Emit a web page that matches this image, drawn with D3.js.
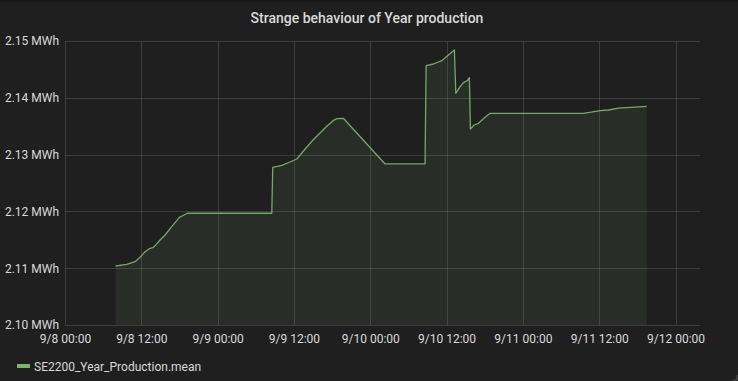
<!DOCTYPE html>
<html>
<head>
<meta charset="utf-8">
<script src="https://cdn.jsdelivr.net/npm/d3@7"></script>
<style>
  html, body { margin: 0; padding: 0; background: #161719; }
  svg { display: block; }
  text { font-family: Roboto, "Open Sans", sans-serif; }
</style>
</head>
<body>
<svg id="chart" width="738" height="381"></svg>
<script>
// ---- data ----
const title = "Strange behaviour of Year production";
const seriesName = "SE2200_Year_Production.mean";
const times = [
  "2018-09-08T07:58", "2018-09-08T09:42", "2018-09-08T11:01", "2018-09-08T11:48",
  "2018-09-08T12:35", "2018-09-08T13:16", "2018-09-08T13:53", "2018-09-08T14:19",
  "2018-09-08T14:57", "2018-09-08T15:44", "2018-09-08T16:47", "2018-09-08T17:59",
  "2018-09-08T19:14", "2018-09-09T08:31", "2018-09-09T08:40", "2018-09-09T10:05",
  "2018-09-09T11:23", "2018-09-09T12:27", "2018-09-09T13:45", "2018-09-09T15:00",
  "2018-09-09T16:06", "2018-09-09T17:12", "2018-09-09T18:09", "2018-09-09T18:44",
  "2018-09-09T19:46", "2018-09-10T02:20", "2018-09-10T08:37", "2018-09-10T08:47",
  "2018-09-10T09:56", "2018-09-10T11:15", "2018-09-10T12:17", "2018-09-10T13:14",
  "2018-09-10T13:27", "2018-09-10T14:08", "2018-09-10T14:39", "2018-09-10T15:16",
  "2018-09-10T15:35", "2018-09-10T15:45", "2018-09-10T16:20", "2018-09-10T17:00",
  "2018-09-10T18:03", "2018-09-10T18:51", "2018-09-11T09:31", "2018-09-11T12:09",
  "2018-09-11T13:27", "2018-09-11T15:01", "2018-09-11T19:29"
];
const values = [
  2.11039, 2.11069, 2.11114, 2.11192,
  2.11290, 2.11343, 2.11368, 2.11414,
  2.11496, 2.11585, 2.11731, 2.11896,
  2.11967, 2.11967, 2.12776, 2.12812,
  2.12870, 2.12923, 2.13099, 2.13257,
  2.13380, 2.13504, 2.13597, 2.13632,
  2.13639, 2.12835, 2.12835, 2.14565,
  2.14595, 2.14653, 2.14754, 2.14842,
  2.14079, 2.14195, 2.14266, 2.14301,
  2.14354, 2.13451, 2.13521, 2.13551,
  2.13657, 2.13727, 2.13727, 2.13773,
  2.13785, 2.13820, 2.13850
];
const yTicks = [2.10, 2.11, 2.12, 2.13, 2.14, 2.15];
const xTickTimes = [
  "2018-09-08T00:00", "2018-09-08T12:00", "2018-09-09T00:00", "2018-09-09T12:00",
  "2018-09-10T00:00", "2018-09-10T12:00", "2018-09-11T00:00", "2018-09-11T12:00",
  "2018-09-12T00:00"
];
const xDomain = ["2018-09-08T00:00", "2018-09-12T03:51"];
const yDomain = [2.10, 2.15];

// ---- drawing ----
const parse = d3.timeParse("%Y-%m-%dT%H:%M");
const data = times.map((t, i) => ({ t: parse(t), v: values[i] }));

const svg = d3.select("#chart");
const W = 738, H = 381;
const m = { left: 65, right: 38, top: 41, bottom: 56 };

svg.append("rect").attr("x", 0).attr("y", 2).attr("width", W).attr("height", H - 2)
  .attr("fill", "#1f1f20");

const x = d3.scaleTime().domain(xDomain.map(parse)).range([m.left, W - m.right]);
const y = d3.scaleLinear().domain(yDomain).range([H - m.bottom, m.top]);

svg.append("text").attr("x", 367).attr("y", 22.5).attr("text-anchor", "middle")
  .attr("fill", "#d8d9da").attr("font-size", 14).attr("font-weight", 500)
  .text(title);

// grid
const grid = svg.append("g");
grid.selectAll("line.h").data(yTicks).enter().append("line")
  .attr("x1", m.left).attr("x2", W - m.right)
  .attr("y1", d => Math.round(y(d)) + 0.5).attr("y2", d => Math.round(y(d)) + 0.5)
  .attr("stroke", "#ffffff").attr("stroke-opacity", 0.13).attr("stroke-width", 1);
grid.selectAll("line.v").data(xTickTimes.map(parse)).enter().append("line")
  .attr("y1", m.top).attr("y2", H - m.bottom)
  .attr("x1", d => Math.round(x(d)) + 0.5).attr("x2", d => Math.round(x(d)) + 0.5)
  .attr("stroke", "#ffffff").attr("stroke-opacity", 0.13).attr("stroke-width", 1);

// area & line
const area = d3.area().x(d => x(d.t)).y0(y(yDomain[0])).y1(d => y(d.v));
const line = d3.line().x(d => x(d.t)).y(d => y(d.v));
svg.append("path").datum(data).attr("d", area)
  .attr("fill", "#7eb26d").attr("fill-opacity", 0.1);
svg.append("path").datum(data).attr("d", line)
  .attr("fill", "none").attr("stroke", "#74a963").attr("stroke-width", 1.3)
  .attr("stroke-linejoin", "round");

// axes
const fmtY = d => d3.format(".2f")(d) + " MWh";
const yAxis = d3.axisLeft(y).tickValues(yTicks).tickFormat(fmtY).tickSize(0).tickPadding(6);
const gy = svg.append("g").attr("transform", `translate(${m.left},0)`).call(yAxis);
gy.select(".domain").remove();
gy.selectAll("text").attr("fill", "#d8d9da").attr("font-size", 12)
  .attr("font-family", "Roboto, sans-serif");

const fmtX = d => (d.getMonth() + 1) + "/" + d.getDate() + " " + d3.timeFormat("%H:%M")(d);
const xAxis = d3.axisBottom(x).tickValues(xTickTimes.map(parse)).tickFormat(fmtX)
  .tickSize(0).tickPadding(9);
const gx = svg.append("g").attr("transform", `translate(0,${H - m.bottom})`).call(xAxis);
gx.select(".domain").remove();
gx.selectAll("text").attr("fill", "#d8d9da").attr("font-size", 12)
  .attr("font-family", "Roboto, sans-serif");

// legend
const lg = svg.append("g").attr("transform", "translate(17,366)");
lg.append("rect").attr("x", 0).attr("y", -2).attr("width", 13).attr("height", 4)
  .attr("fill", "#7eb26d");
lg.append("text").attr("x", 17).attr("y", 4.5).attr("fill", "#d8d9da")
  .attr("font-size", 12).text(seriesName);

// resize handle
svg.append("path").attr("d", "M733,380 L737,380 L737,375").attr("fill", "none")
  .attr("stroke", "#555").attr("stroke-width", 1);
</script>
</body>
</html>
